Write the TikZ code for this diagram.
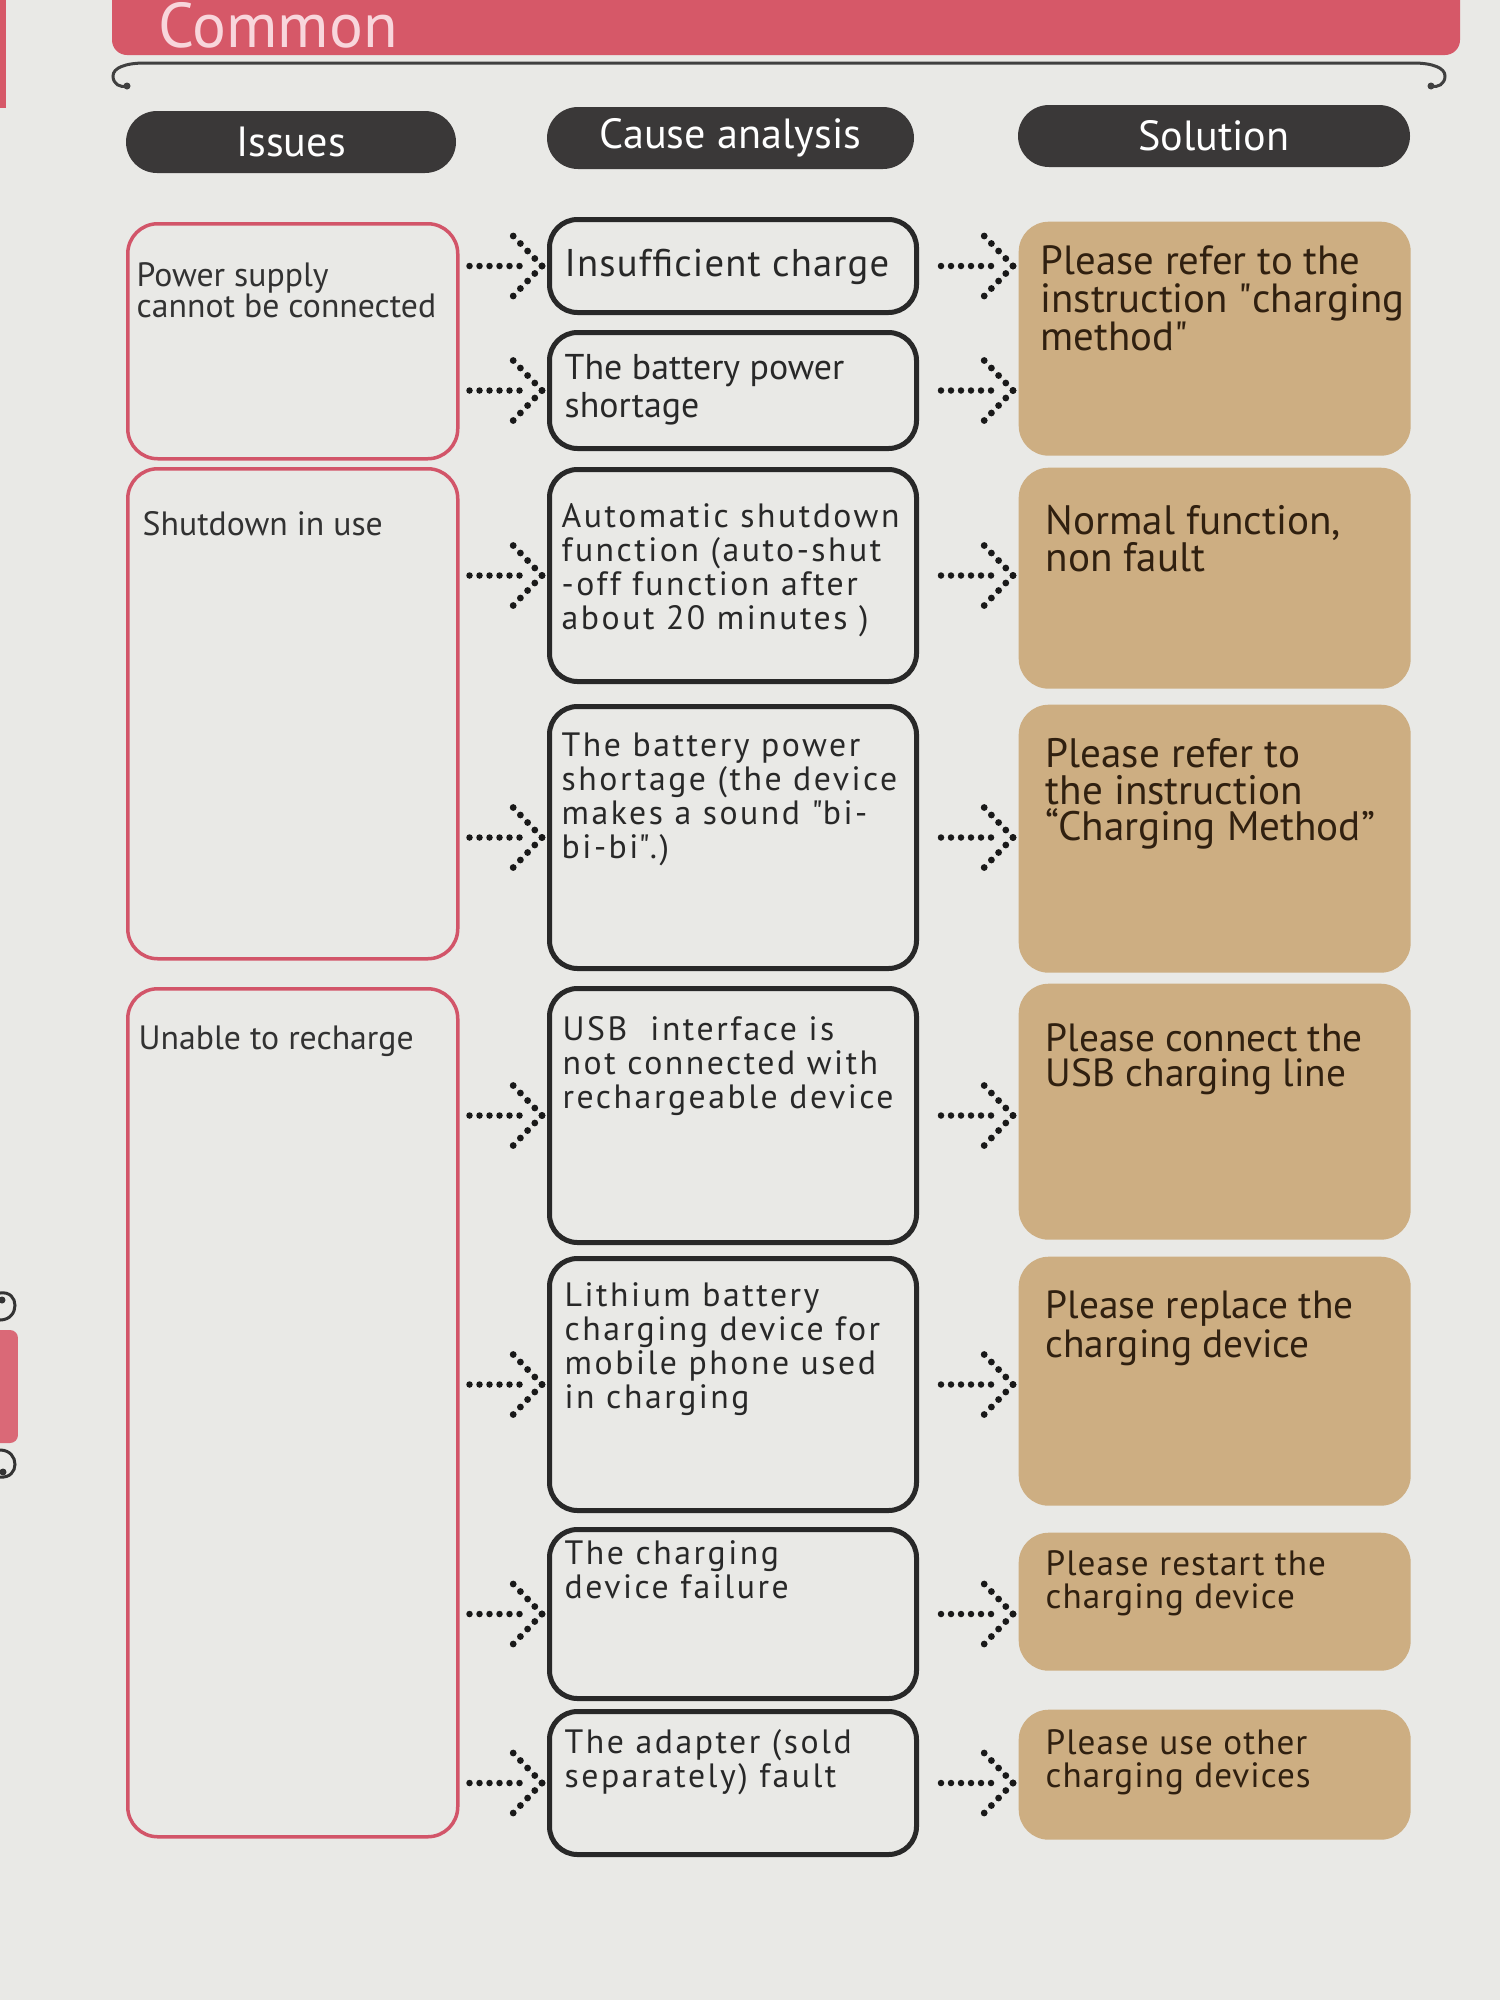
\documentclass[tikz,border=0pt]{standalone}
\usepackage{fontspec}
\setmainfont{PT Sans}
\newfontfamily\trackfont[LetterSpace=7.5]{PT Sans}
\newfontfamily\tracklight[LetterSpace=3]{PT Sans}
\usetikzlibrary{decorations.markings,calc}

\definecolor{paper}{RGB}{233,233,230}
\definecolor{bandred}{RGB}{214,88,104}
\definecolor{issred}{RGB}{210,85,105}
\definecolor{pill}{RGB}{58,56,56}
\definecolor{tan}{RGB}{205,174,130}
\definecolor{ink}{RGB}{50,50,50}
\definecolor{frame}{RGB}{40,40,40}
\definecolor{titlepink}{RGB}{248,214,220}

\tikzstyle{dotarrow}=[draw=black!90,line width=0.065cm,line cap=round,dash pattern=on 0pt off 0.1cm,
  shorten <=0.1cm,shorten >=0.2cm,postaction={decorate},
  decoration={markings,mark=at position 1 with {
    \foreach \k in {0,...,4} {
      \fill[black!90,shorten <=0pt,shorten >=0pt] (-0.05cm-\k*0.072cm,\k*0.075cm) circle (0.034cm);
      \fill[black!90,shorten <=0pt,shorten >=0pt] (-0.05cm-\k*0.072cm,-\k*0.075cm) circle (0.034cm);
    }}}]

\begin{document}
\begin{tikzpicture}
  [issue/.style={draw=issred,line width=0.035cm,rounded corners=0.3cm,anchor=north west,minimum width=3.30cm},
   cause/.style={draw=frame,line width=0.05cm,rounded corners=0.28cm,anchor=north west,minimum width=3.67cm},
   fix/.style={fill=tan,rounded corners=0.3cm,anchor=north west,minimum width=3.92cm},
   head/.style={fill=pill,text=white,rounded corners=0.31cm,minimum height=0.62cm,inner sep=0pt,font=\fontsize{12}{14}\selectfont},
   txt/.style={anchor=north west,align=left,inner sep=0pt,text=ink},
   itxt/.style={txt,font=\fontsize{9.6}{8.8}\selectfont},
   ctxt/.style={txt,text=frame,font=\trackfont\fontsize{9.6}{9.7}\selectfont},
   ftxt/.style={txt,text=black!75!brown,font=\fontsize{11.2}{10}\selectfont}
  ]
  \clip (0,0) rectangle (15,-20);
  \useasboundingbox (0,0) rectangle (15,-20);
  \fill[paper] (0,0) rectangle (15,-20);

  % banner
  \fill[bandred,rounded corners=0.15cm] (1.12,0.5) rectangle (14.6,-0.55);
  \node[anchor=base west,inner sep=0pt,text=titlepink,font=\fontsize{18}{18}\selectfont] (title) at (1.58,-0.47) {Common};
  \draw[line width=0.03cm,black!75]
    (1.27,-0.86) .. controls (1.20,-0.88) and (1.13,-0.84) .. (1.13,-0.76)
    .. controls (1.13,-0.68) and (1.25,-0.63) .. (1.45,-0.63) -- (14.13,-0.63)
    .. controls (14.33,-0.63) and (14.45,-0.68) .. (14.45,-0.76)
    .. controls (14.45,-0.84) and (14.38,-0.88) .. (14.31,-0.86);
  \fill[black!75] (1.27,-0.86) circle (0.035) (14.31,-0.86) circle (0.035);

  % edge of the facing page
  \fill[bandred] (0,0) rectangle (0.06,-1.08);
  \fill[bandred!90,rounded corners=0.08cm] (-0.2,-13.30) rectangle (0.18,-14.43);
  \draw[line width=0.03cm,black!80] (0,-12.93) .. controls (0.2,-12.90) and (0.2,-13.20) .. (0,-13.20);
  \draw[line width=0.03cm,black!80] (0,-14.50) .. controls (0.2,-14.50) and (0.2,-14.79) .. (0,-14.77);
  \fill[black!80] (0.02,-13.00) circle (0.035) (0.03,-14.72) circle (0.035);

  % headers
  \node[head,minimum width=3.30cm] (hIss) at (2.91,-1.42) {Issues};
  \node[head,minimum width=3.67cm] (hCau) at (7.305,-1.38) {Cause analysis};
  \node[head,minimum width=3.92cm] (hSol) at (12.14,-1.36) {Solution};

  % issues
  \node[issue,minimum height=2.35cm] (i1) at (1.26,-2.22) {};
  \node[issue,minimum height=4.90cm] (i2) at (1.26,-4.67) {};
  \node[issue,minimum height=8.48cm] (i3) at (1.26,-9.87) {};
  \node[itxt] (i1t) at ([shift={(0.10,-0.40)}]i1.north west) {Power supply\\cannot be connected};
  \node[itxt] (i2t) at ([shift={(0.16,-0.44)}]i2.north west) {Shutdown in use};
  \node[itxt] (i3t) at ([shift={(0.12,-0.38)}]i3.north west) {Unable to recharge};

  % causes
  \node[cause,minimum height=0.93cm] (c1) at (5.47,-2.17) {};
  \node[cause,minimum height=1.16cm] (c2) at (5.47,-3.30) {};
  \node[cause,minimum height=2.12cm] (c3) at (5.47,-4.67) {};
  \node[cause,minimum height=2.62cm] (c4) at (5.47,-7.04) {};
  \node[cause,minimum height=2.54cm] (c5) at (5.47,-9.86) {};
  \node[cause,minimum height=2.52cm] (c6) at (5.47,-12.56) {};
  \node[cause,minimum height=1.69cm] (c7) at (5.47,-15.27) {};
  \node[cause,minimum height=1.43cm] (c8) at (5.47,-17.09) {};
  \node[txt,text=frame,font=\tracklight\fontsize{11}{12}\selectfont] (c1t) at ([shift={(0.17,-0.31)}]c1.north west) {Insufficient charge};
  \node[txt,text=frame,font=\fontsize{10.2}{10.6}\selectfont] (c2t) at ([shift={(0.17,-0.24)}]c2.north west) {The battery power\\shortage};
  \node[ctxt] (c3t) at ([shift={(0.14,-0.36)}]c3.north west) {Automatic shutdown\\function (auto-shut\\-off function after\\about 20 minutes )};
  \node[ctxt] (c4t) at ([shift={(0.14,-0.28)}]c4.north west) {The battery power\\shortage (the device\\makes a sound \textquotedbl bi-\\bi-bi\textquotedbl.)};
  \node[ctxt] (c5t) at ([shift={(0.15,-0.30)}]c5.north west) {USB\ \ interface is\\not connected with\\rechargeable device};
  \node[ctxt] (c6t) at ([shift={(0.17,-0.26)}]c6.north west) {Lithium battery\\charging device for\\mobile phone used\\in charging};
  \node[ctxt] (c7t) at ([shift={(0.17,-0.13)}]c7.north west) {The charging\\device failure};
  \node[ctxt] (c8t) at ([shift={(0.17,-0.20)}]c8.north west) {The adapter (sold\\separately) fault};

  % solutions
  \node[fix,minimum height=2.34cm] (s1) at (10.18,-2.21) {};
  \node[fix,minimum height=2.21cm] (s2) at (10.18,-4.67) {};
  \node[fix,minimum height=2.68cm] (s3) at (10.18,-7.04) {};
  \node[fix,minimum height=2.56cm] (s4) at (10.18,-9.83) {};
  \node[fix,minimum height=2.49cm] (s5) at (10.18,-12.56) {};
  \node[fix,minimum height=1.38cm] (s6) at (10.18,-15.32) {};
  \node[fix,minimum height=1.30cm] (s7) at (10.18,-17.09) {};
  \node[ftxt,font=\fontsize{11.6}{10.8}\selectfont] (s1t) at ([shift={(0.22,-0.24)}]s1.north west) {Please refer to the\\instruction \textquotedbl charging\\method\textquotedbl};
  \node[ftxt,font=\fontsize{11.7}{10.4}\selectfont] (s2t) at ([shift={(0.27,-0.38)}]s2.north west) {Normal function,\\non fault};
  \node[ftxt,font=\fontsize{11.7}{10.4}\selectfont] (s3t) at ([shift={(0.27,-0.34)}]s3.north west) {Please refer to\\the instruction\\“Charging Method”};
  \node[ftxt] (s4t) at ([shift={(0.27,-0.40)}]s4.north west) {Please connect the\\USB charging line};
  \node[ftxt] (s5t) at ([shift={(0.27,-0.34)}]s5.north west) {Please replace the\\charging device};
  \node[ftxt,font=\tracklight\fontsize{10}{9.4}\selectfont] (s6t) at ([shift={(0.27,-0.18)}]s6.north west) {Please restart the\\charging device};
  \node[ftxt,font=\tracklight\fontsize{10}{9.4}\selectfont] (s7t) at ([shift={(0.27,-0.20)}]s7.north west) {Please use other\\charging devices};

  % connections
  \foreach \a/\b in {i1/c1,i1/c2,i2/c3,i2/c4,i3/c5,i3/c6,i3/c7,i3/c8}
    \draw[dotarrow] (\a.east |- \b.west) -- (\b.west);
  \foreach \a/\b in {c1/s1,c2/s1,c3/s2,c4/s3,c5/s4,c6/s5,c7/s6,c8/s7}
    \draw[dotarrow,shorten <=0.22cm] (\a.east) -- (\b.west |- \a.east);
\end{tikzpicture}
\end{document}
